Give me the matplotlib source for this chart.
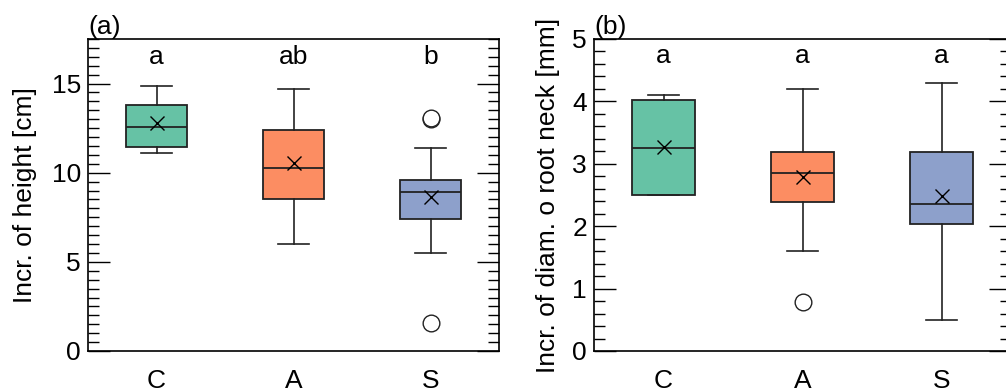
import matplotlib
matplotlib.use("Agg")
import matplotlib.pyplot as plt
from matplotlib.ticker import MultipleLocator

plt.rcParams['font.family'] = ['Liberation Sans', 'DejaVu Sans']

categories = ["C", "A", "S"]
colors = ["#66c2a5", "#fc8d62", "#8da0cb"]

# Panel (a): increment of height [cm]
h_whislo = [11.08, 5.98, 5.49]
h_q1 = [11.47, 8.52, 7.43]
h_med = [12.55, 10.24, 8.93]
h_q3 = [13.82, 12.39, 9.60]
h_whishi = [14.87, 14.68, 11.40]
h_mean = [12.78, 10.52, 8.65]
h_fliers = [[], [], [1.59, 13.00, 13.06]]
h_letters = ["a", "ab", "b"]

# Panel (b): increment of diameter of root neck [mm]
d_whislo = [2.50, 1.60, 0.50]
d_q1 = [2.50, 2.38, 2.04]
d_med = [3.25, 2.85, 2.35]
d_q3 = [4.03, 3.19, 3.19]
d_whishi = [4.10, 4.20, 4.30]
d_mean = [3.27, 2.79, 2.49]
d_fliers = [[], [0.79], []]
d_letters = ["a", "a", "a"]

W, H = 1006, 390
fig = plt.figure(figsize=(W / 100, H / 100), dpi=100)
axA = fig.add_axes([88 / W, 39 / H, 411 / W, 312 / H])
axB = fig.add_axes([594 / W, 39 / H, 417 / W, 312 / H])

edge = "#222222"
FS = 19


def draw(ax, whislo, q1, med, q3, whishi, mean, fliers, letters, ylim, major, minor, ylabel, letter_y, tag, lpad):
    stats = []
    for i in range(len(categories)):
        stats.append(dict(whislo=whislo[i], q1=q1[i], med=med[i], q3=q3[i],
                          whishi=whishi[i], mean=mean[i], fliers=fliers[i]))
    pos = list(range(1, len(categories) + 1))
    bp = ax.bxp(stats, positions=pos, widths=0.45, patch_artist=True, showmeans=True,
                boxprops=dict(edgecolor=edge, linewidth=1.3),
                medianprops=dict(color=edge, linewidth=1.3),
                whiskerprops=dict(color=edge, linewidth=1.2),
                capprops=dict(color=edge, linewidth=1.2),
                capwidths=0.225,
                meanprops=dict(marker="x", markeredgecolor="black", markersize=10, markeredgewidth=1.0),
                flierprops=dict(marker="o", markerfacecolor="white", markeredgecolor=edge,
                                markersize=12, markeredgewidth=1.0))
    for patch, c in zip(bp["boxes"], colors):
        patch.set_facecolor(c)
    ax.set_xlim(0.5, len(categories) + 0.5)
    ax.set_ylim(*ylim)
    ax.set_xticks(pos)
    ax.set_xticklabels(categories)
    ax.yaxis.set_major_locator(MultipleLocator(major))
    ax.yaxis.set_minor_locator(MultipleLocator(minor))
    ax.tick_params(axis="y", which="both", direction="in", left=True, right=True, labelsize=FS, pad=5, width=1.0)
    ax.tick_params(axis="y", which="major", length=16)
    ax.tick_params(axis="y", which="minor", length=8)
    ax.tick_params(axis="x", which="both", length=0, labelsize=FS, pad=13)
    ax.set_ylabel(ylabel, fontsize=FS, labelpad=lpad)
    for s in ax.spines.values():
        s.set_linewidth(1.2)
    for p, t in zip(pos, letters):
        ax.text(p, letter_y, t, ha="center", va="center", fontsize=FS)
    ax.text(0.0, 1.0, tag, transform=ax.transAxes, ha="left", va="bottom", fontsize=FS)


draw(axA, h_whislo, h_q1, h_med, h_q3, h_whishi, h_mean, h_fliers, h_letters,
     (0, 17.5), 5, 0.5, "Incr. of height [cm]", 16.5, "(a)", 11)
draw(axB, d_whislo, d_q1, d_med, d_q3, d_whishi, d_mean, d_fliers, d_letters,
     (0, 5), 1, 0.2, "Incr. of diam. o root neck [mm]", 4.73, "(b)", 9)

fig.savefig("out.png", dpi=100)
